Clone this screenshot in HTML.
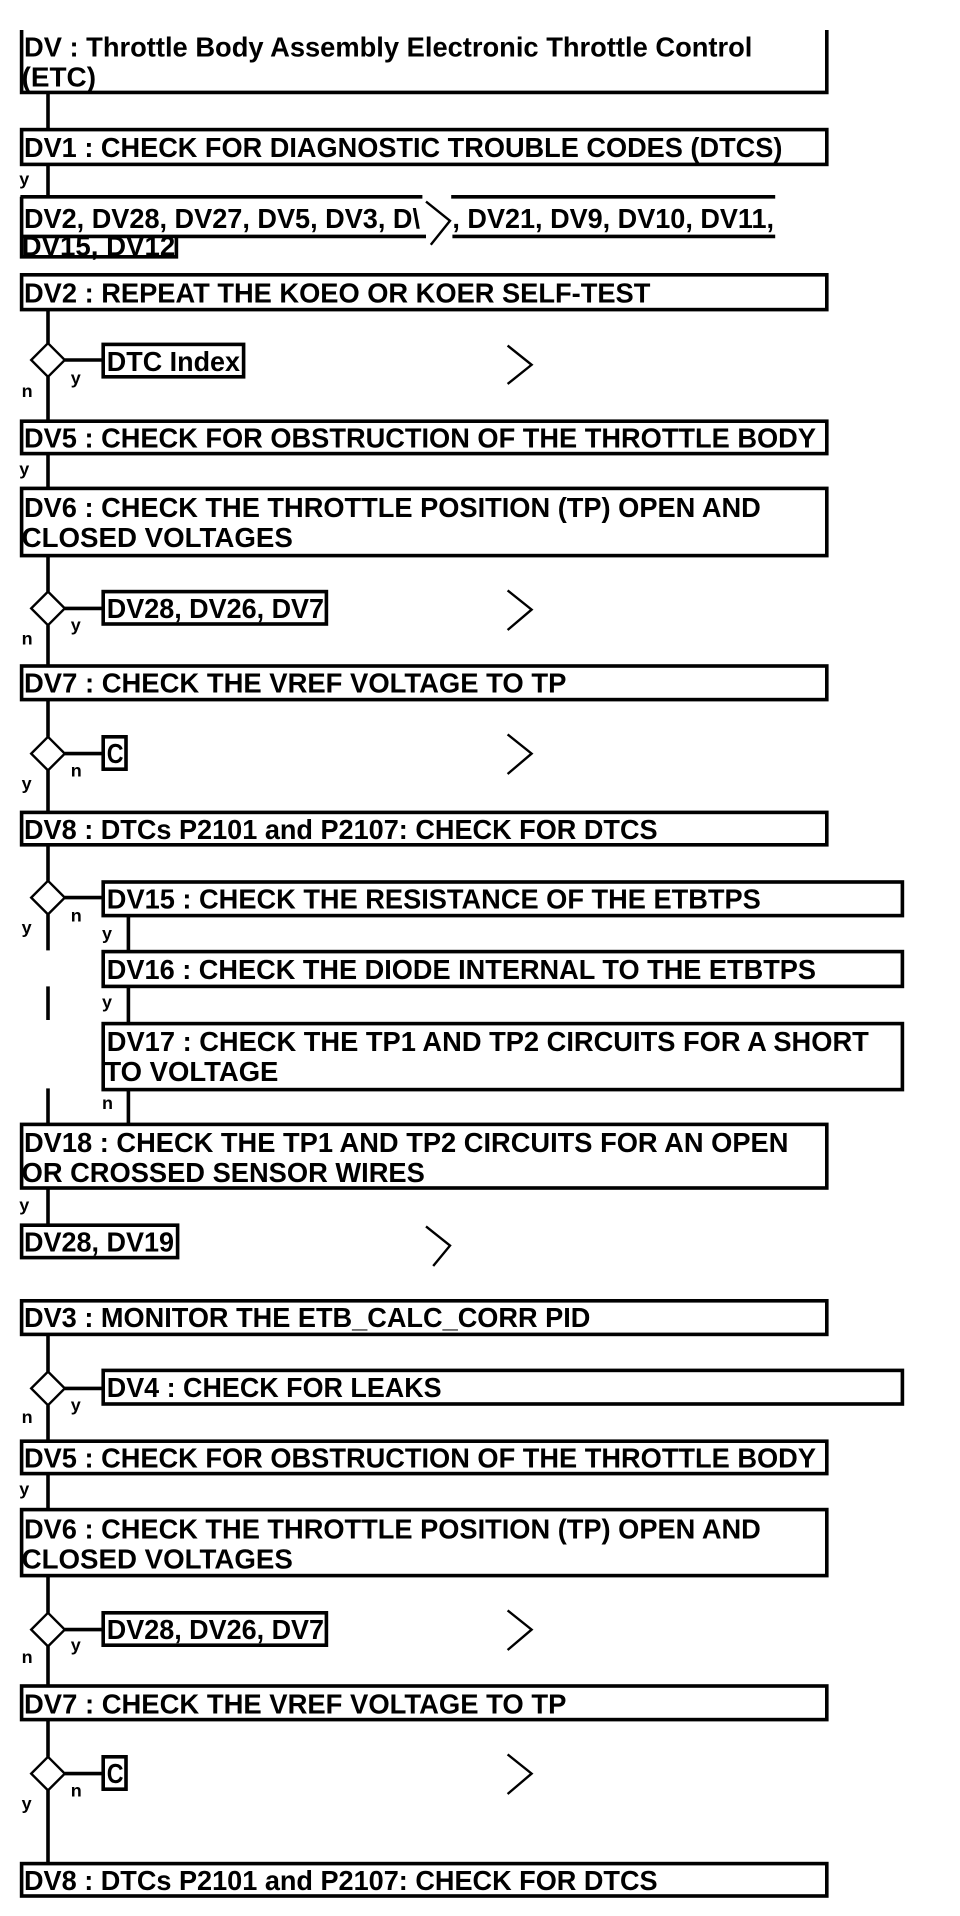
<!DOCTYPE html>
<html><head><meta charset="utf-8"><style>html,body{margin:0;padding:0;background:#fff;}svg{display:block}</style></head>
<body>
<svg width="960" height="1916" viewBox="0 0 800 1596.67" xmlns="http://www.w3.org/2000/svg">
<g fill="none" stroke="#000" stroke-width="3">
<polyline points="18,25 18,77 689,77 689,25"/>
<line x1="40" y1="77" x2="40" y2="108"/>
<rect x="18" y="108" width="671" height="29"/>
<line x1="40" y1="137" x2="40" y2="165"/>
<line x1="17" y1="164" x2="352" y2="164"/>
<line x1="376" y1="164" x2="646" y2="164"/>
<line x1="17" y1="197" x2="355" y2="197"/>
<line x1="377" y1="197" x2="646" y2="197"/>
<polyline points="18,164 18,214 147,214 147,197"/>
<polyline points="355,168 375,184 359,204" stroke-width="2"/>
<rect x="18" y="229" width="671" height="29"/>
<line x1="40" y1="258" x2="40" y2="286"/>
<line x1="40" y1="314" x2="40" y2="351"/>
<line x1="54" y1="300" x2="86" y2="300"/>
<rect x="86" y="287" width="117" height="27"/>
<rect x="18" y="351" width="671" height="27"/>
<line x1="40" y1="378" x2="40" y2="407"/>
<rect x="18" y="407" width="671" height="56"/>
<line x1="40" y1="463" x2="40" y2="493"/>
<line x1="40" y1="521" x2="40" y2="555"/>
<line x1="54" y1="507" x2="86" y2="507"/>
<rect x="86" y="493" width="186" height="27"/>
<rect x="18" y="555" width="671" height="28"/>
<line x1="40" y1="583" x2="40" y2="614"/>
<line x1="40" y1="642" x2="40" y2="677"/>
<line x1="54" y1="628" x2="86" y2="628"/>
<rect x="86" y="614" width="19" height="27"/>
<rect x="18" y="677" width="671" height="27"/>
<line x1="40" y1="704" x2="40" y2="734"/>
<line x1="40" y1="762" x2="40" y2="792"/>
<line x1="40" y1="822" x2="40" y2="850"/>
<line x1="40" y1="907" x2="40" y2="937"/>
<line x1="54" y1="748" x2="86" y2="748"/>
<rect x="86" y="735" width="666" height="28"/>
<line x1="107" y1="763" x2="107" y2="793"/>
<rect x="86" y="793" width="666" height="29"/>
<line x1="107" y1="822" x2="107" y2="853"/>
<rect x="86" y="853" width="666" height="55"/>
<line x1="107" y1="908" x2="107" y2="937"/>
<rect x="18" y="937" width="671" height="53"/>
<line x1="40" y1="990" x2="40" y2="1021"/>
<rect x="18" y="1021" width="130" height="27"/>
<rect x="18" y="1084" width="671" height="28"/>
<line x1="40" y1="1112" x2="40" y2="1143"/>
<line x1="40" y1="1171" x2="40" y2="1201"/>
<line x1="54" y1="1157" x2="86" y2="1157"/>
<rect x="86" y="1142" width="666" height="28"/>
<rect x="18" y="1201" width="671" height="27"/>
<line x1="40" y1="1228" x2="40" y2="1258"/>
<rect x="18" y="1258" width="671" height="55"/>
<line x1="40" y1="1313" x2="40" y2="1344"/>
<line x1="40" y1="1372" x2="40" y2="1405"/>
<line x1="54" y1="1358" x2="86" y2="1358"/>
<rect x="86" y="1344" width="186" height="27"/>
<rect x="18" y="1405" width="671" height="28"/>
<line x1="40" y1="1433" x2="40" y2="1464"/>
<line x1="40" y1="1492" x2="40" y2="1553"/>
<line x1="54" y1="1478" x2="86" y2="1478"/>
<rect x="86" y="1464" width="19" height="27"/>
<rect x="18" y="1553" width="671" height="27"/>
</g>
<g fill="none" stroke="#000" stroke-width="2">
<polygon points="40,286 54,300 40,314 26,300"/>
<polygon points="40,493 54,507 40,521 26,507"/>
<polygon points="40,614 54,628 40,642 26,628"/>
<polygon points="40,734 54,748 40,762 26,748"/>
<polygon points="40,1143 54,1157 40,1171 26,1157"/>
<polygon points="40,1344 54,1358 40,1372 26,1358"/>
<polygon points="40,1464 54,1478 40,1492 26,1478"/>
<polyline points="423,288 443,304 423,320"/>
<polyline points="423,492 443,508 423,525"/>
<polyline points="423,612 443,628 423,645"/>
<polyline points="355,1022 375,1038 361,1055"/>
<polyline points="423,1342 443,1358 423,1375"/>
<polyline points="423,1462 443,1478 423,1495"/>
</g>
<g font-family="Liberation Sans, Arial, sans-serif" font-weight="bold" font-size="23" fill="#000">
<text x="20" y="47" textLength="607" lengthAdjust="spacingAndGlyphs">DV : Throttle Body Assembly Electronic Throttle Control</text>
<text x="18" y="72" textLength="62" lengthAdjust="spacingAndGlyphs">(ETC)</text>
<text x="20" y="131" textLength="632" lengthAdjust="spacingAndGlyphs">DV1 : CHECK FOR DIAGNOSTIC TROUBLE CODES (DTCS)</text>
<text x="20" y="190" textLength="330" lengthAdjust="spacingAndGlyphs">DV2, DV28, DV27, DV5, DV3, D\</text>
<text x="377" y="190" textLength="268" lengthAdjust="spacingAndGlyphs">, DV21, DV9, DV10, DV11,</text>
<text x="18" y="213" textLength="128" lengthAdjust="spacingAndGlyphs">DV15, DV12</text>
<text x="20" y="252" textLength="522" lengthAdjust="spacingAndGlyphs">DV2 : REPEAT THE KOEO OR KOER SELF-TEST</text>
<text x="89" y="309" textLength="111" lengthAdjust="spacingAndGlyphs">DTC Index</text>
<text x="20" y="373" textLength="660" lengthAdjust="spacingAndGlyphs">DV5 : CHECK FOR OBSTRUCTION OF THE THROTTLE BODY</text>
<text x="20" y="431" textLength="614" lengthAdjust="spacingAndGlyphs">DV6 : CHECK THE THROTTLE POSITION (TP) OPEN AND</text>
<text x="18" y="456" textLength="226" lengthAdjust="spacingAndGlyphs">CLOSED VOLTAGES</text>
<text x="89" y="515" textLength="181" lengthAdjust="spacingAndGlyphs">DV28, DV26, DV7</text>
<text x="20" y="577" textLength="452" lengthAdjust="spacingAndGlyphs">DV7 : CHECK THE VREF VOLTAGE TO TP</text>
<text x="89" y="636" textLength="14" lengthAdjust="spacingAndGlyphs">C</text>
<text x="20" y="699" textLength="528" lengthAdjust="spacingAndGlyphs">DV8 : DTCs P2101 and P2107: CHECK FOR DTCS</text>
<text x="89" y="757" textLength="545" lengthAdjust="spacingAndGlyphs">DV15 : CHECK THE RESISTANCE OF THE ETBTPS</text>
<text x="89" y="816" textLength="591" lengthAdjust="spacingAndGlyphs">DV16 : CHECK THE DIODE INTERNAL TO THE ETBTPS</text>
<text x="89" y="876" textLength="635" lengthAdjust="spacingAndGlyphs">DV17 : CHECK THE TP1 AND TP2 CIRCUITS FOR A SHORT</text>
<text x="87" y="901" textLength="145" lengthAdjust="spacingAndGlyphs">TO VOLTAGE</text>
<text x="20" y="960" textLength="637" lengthAdjust="spacingAndGlyphs">DV18 : CHECK THE TP1 AND TP2 CIRCUITS FOR AN OPEN</text>
<text x="18" y="985" textLength="336" lengthAdjust="spacingAndGlyphs">OR CROSSED SENSOR WIRES</text>
<text x="20" y="1043" textLength="125" lengthAdjust="spacingAndGlyphs">DV28, DV19</text>
<text x="20" y="1106" textLength="472" lengthAdjust="spacingAndGlyphs">DV3 : MONITOR THE ETB_CALC_CORR PID</text>
<text x="89" y="1164" textLength="279" lengthAdjust="spacingAndGlyphs">DV4 : CHECK FOR LEAKS</text>
<text x="20" y="1223" textLength="660" lengthAdjust="spacingAndGlyphs">DV5 : CHECK FOR OBSTRUCTION OF THE THROTTLE BODY</text>
<text x="20" y="1282" textLength="614" lengthAdjust="spacingAndGlyphs">DV6 : CHECK THE THROTTLE POSITION (TP) OPEN AND</text>
<text x="18" y="1307" textLength="226" lengthAdjust="spacingAndGlyphs">CLOSED VOLTAGES</text>
<text x="89" y="1366" textLength="181" lengthAdjust="spacingAndGlyphs">DV28, DV26, DV7</text>
<text x="20" y="1428" textLength="452" lengthAdjust="spacingAndGlyphs">DV7 : CHECK THE VREF VOLTAGE TO TP</text>
<text x="89" y="1486" textLength="14" lengthAdjust="spacingAndGlyphs">C</text>
<text x="20" y="1575" textLength="528" lengthAdjust="spacingAndGlyphs">DV8 : DTCs P2101 and P2107: CHECK FOR DTCS</text>
</g>
<g font-family="Liberation Sans, Arial, sans-serif" font-weight="bold" font-size="15" fill="#000">
<text x="16" y="154">y</text>
<text x="59" y="320">y</text><text x="18" y="331">n</text>
<text x="16" y="396">y</text>
<text x="59" y="526">y</text><text x="18" y="537">n</text>
<text x="59" y="647">n</text><text x="18" y="658">y</text>
<text x="59" y="768">n</text><text x="18" y="778">y</text>
<text x="85" y="783">y</text>
<text x="85" y="840">y</text>
<text x="85" y="924">n</text>
<text x="16" y="1009">y</text>
<text x="59" y="1176">y</text><text x="18" y="1186">n</text>
<text x="16" y="1246">y</text>
<text x="59" y="1376">y</text><text x="18" y="1386">n</text>
<text x="59" y="1497">n</text><text x="18" y="1508">y</text>
</g>
</svg>
</body></html>
